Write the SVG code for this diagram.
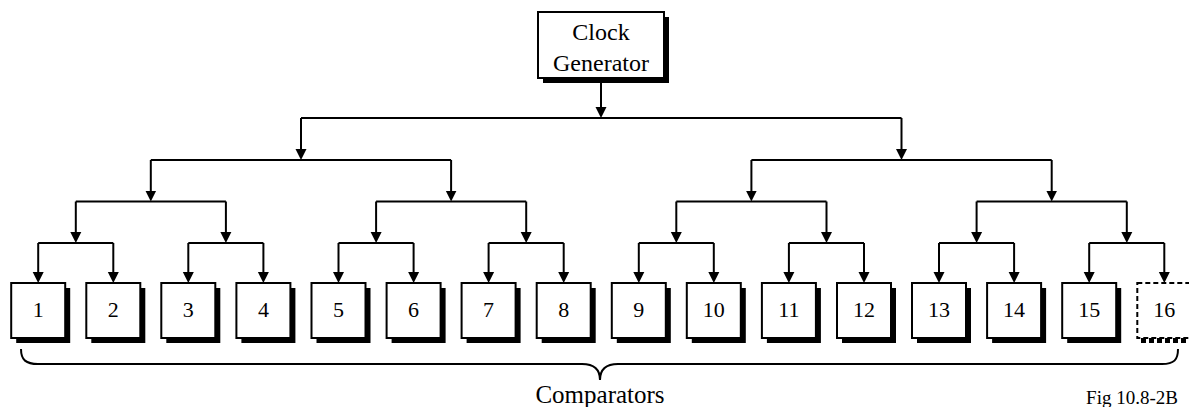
<svg xmlns="http://www.w3.org/2000/svg" width="1189" height="407" viewBox="0 0 1189 407">
<defs>
<style>
.box{fill:#fff;stroke:#000;stroke-width:2}
.sh{fill:#000}
.ln{fill:none;stroke:#000;stroke-width:2}
.ar{fill:none;stroke:#000;stroke-width:2;marker-end:url(#arr)}
.t{font-family:"Liberation Serif","Times New Roman",serif;fill:#000;text-anchor:middle}
.num{font-size:22px}
.dash{fill:#fff;stroke:#000;stroke-width:2;stroke-dasharray:5 3}
</style>
<marker id="arr" markerWidth="12" markerHeight="12" refX="7" refY="6" orient="auto" markerUnits="userSpaceOnUse">
<path d="M0,0.5 L11,6 L0,11.5 Z" fill="#000"/>
</marker>
</defs>
<rect width="1189" height="407" fill="#fff"/>

<g id="clock">
<rect class="sh" x="543" y="17" width="126" height="66"/>
<rect class="box" x="538" y="12" width="126" height="66"/>
<text class="t" x="601" y="40" font-size="24">Clock</text>
<text class="t" x="601" y="71" font-size="24">Generator</text>
</g>

<g id="connectors">
<path class="ar" d="M601,83 V114"/>
<path class="ln" d="M301,118 H901.5"/>
<path class="ar" d="M301,118 V156"/>
<path class="ar" d="M901.5,118 V156"/>
<path class="ln" d="M150.8,160 H451.1"/>
<path class="ln" d="M751.4,160 H1051.7"/>
<path class="ar" d="M150.8,160 V197.5"/>
<path class="ar" d="M451.1,160 V197.5"/>
<path class="ar" d="M751.4,160 V197.5"/>
<path class="ar" d="M1051.7,160 V197.5"/>
<path class="ln" d="M75.8,201.5 H225.9"/>
<path class="ln" d="M376.1,201.5 H526.2"/>
<path class="ln" d="M676.3,201.5 H826.5"/>
<path class="ln" d="M976.6,201.5 H1126.8"/>
<path class="ar" d="M75.8,201.5 V239"/>
<path class="ar" d="M225.9,201.5 V239"/>
<path class="ar" d="M376.1,201.5 V239"/>
<path class="ar" d="M526.2,201.5 V239"/>
<path class="ar" d="M676.3,201.5 V239"/>
<path class="ar" d="M826.5,201.5 V239"/>
<path class="ar" d="M976.6,201.5 V239"/>
<path class="ar" d="M1126.8,201.5 V239"/>
<path class="ln" d="M38.2,243 H113.3"/>
<path class="ln" d="M188.3,243 H263.4"/>
<path class="ln" d="M338.5,243 H413.6"/>
<path class="ln" d="M488.6,243 H563.7"/>
<path class="ln" d="M638.8,243 H713.8"/>
<path class="ln" d="M788.9,243 H864"/>
<path class="ln" d="M939,243 H1014.1"/>
<path class="ln" d="M1089.2,243 H1164.3"/>
<path class="ar" d="M38.2,243 V279"/>
<path class="ar" d="M113.3,243 V279"/>
<path class="ar" d="M188.3,243 V279"/>
<path class="ar" d="M263.4,243 V279"/>
<path class="ar" d="M338.5,243 V279"/>
<path class="ar" d="M413.6,243 V279"/>
<path class="ar" d="M488.6,243 V279"/>
<path class="ar" d="M563.7,243 V279"/>
<path class="ar" d="M638.8,243 V279"/>
<path class="ar" d="M713.8,243 V279"/>
<path class="ar" d="M788.9,243 V279"/>
<path class="ar" d="M864,243 V279"/>
<path class="ar" d="M939,243 V279"/>
<path class="ar" d="M1014.1,243 V279"/>
<path class="ar" d="M1089.2,243 V279"/>
<path class="ar" d="M1164.3,243 V279"/>
</g>

<g id="c1"><rect class="sh" x="16.2" y="288" width="54" height="55"/><rect class="box" x="11.2" y="283" width="54" height="55"/><text class="t num" x="38.2" y="317">1</text></g>
<g id="c2"><rect class="sh" x="91.3" y="288" width="54" height="55"/><rect class="box" x="86.3" y="283" width="54" height="55"/><text class="t num" x="113.3" y="317">2</text></g>
<g id="c3"><rect class="sh" x="166.3" y="288" width="54" height="55"/><rect class="box" x="161.3" y="283" width="54" height="55"/><text class="t num" x="188.3" y="317">3</text></g>
<g id="c4"><rect class="sh" x="241.4" y="288" width="54" height="55"/><rect class="box" x="236.4" y="283" width="54" height="55"/><text class="t num" x="263.4" y="317">4</text></g>
<g id="c5"><rect class="sh" x="316.5" y="288" width="54" height="55"/><rect class="box" x="311.5" y="283" width="54" height="55"/><text class="t num" x="338.5" y="317">5</text></g>
<g id="c6"><rect class="sh" x="391.6" y="288" width="54" height="55"/><rect class="box" x="386.6" y="283" width="54" height="55"/><text class="t num" x="413.6" y="317">6</text></g>
<g id="c7"><rect class="sh" x="466.6" y="288" width="54" height="55"/><rect class="box" x="461.6" y="283" width="54" height="55"/><text class="t num" x="488.6" y="317">7</text></g>
<g id="c8"><rect class="sh" x="541.7" y="288" width="54" height="55"/><rect class="box" x="536.7" y="283" width="54" height="55"/><text class="t num" x="563.7" y="317">8</text></g>
<g id="c9"><rect class="sh" x="616.8" y="288" width="54" height="55"/><rect class="box" x="611.8" y="283" width="54" height="55"/><text class="t num" x="638.8" y="317">9</text></g>
<g id="c10"><rect class="sh" x="691.8" y="288" width="54" height="55"/><rect class="box" x="686.8" y="283" width="54" height="55"/><text class="t num" x="713.8" y="317">10</text></g>
<g id="c11"><rect class="sh" x="766.9" y="288" width="54" height="55"/><rect class="box" x="761.9" y="283" width="54" height="55"/><text class="t num" x="788.9" y="317">11</text></g>
<g id="c12"><rect class="sh" x="842" y="288" width="54" height="55"/><rect class="box" x="837" y="283" width="54" height="55"/><text class="t num" x="864" y="317">12</text></g>
<g id="c13"><rect class="sh" x="917" y="288" width="54" height="55"/><rect class="box" x="912" y="283" width="54" height="55"/><text class="t num" x="939" y="317">13</text></g>
<g id="c14"><rect class="sh" x="992.1" y="288" width="54" height="55"/><rect class="box" x="987.1" y="283" width="54" height="55"/><text class="t num" x="1014.1" y="317">14</text></g>
<g id="c15"><rect class="sh" x="1067.2" y="288" width="54" height="55"/><rect class="box" x="1062.2" y="283" width="54" height="55"/><text class="t num" x="1089.2" y="317">15</text></g>
<g id="c16">
<path d="M1141,340.5 H1195" fill="none" stroke="#000" stroke-width="5" stroke-dasharray="5 3"/>
<rect class="dash" x="1137.3" y="283" width="54" height="55"/>
<text class="t num" x="1164.3" y="317">16</text>
</g>

<g id="brace">
<path class="ln" d="M21,349 C21,360 26,364 38,364 H582 C594,364 600,370 600,380 C600,370 606,364 618,364 H1162 C1174,364 1178,360 1178,349"/>
<text class="t" x="600" y="403" font-size="25">Comparators</text>
</g>
<text class="t" x="1132" y="404" font-size="19">Fig 10.8-2B</text>
</svg>
